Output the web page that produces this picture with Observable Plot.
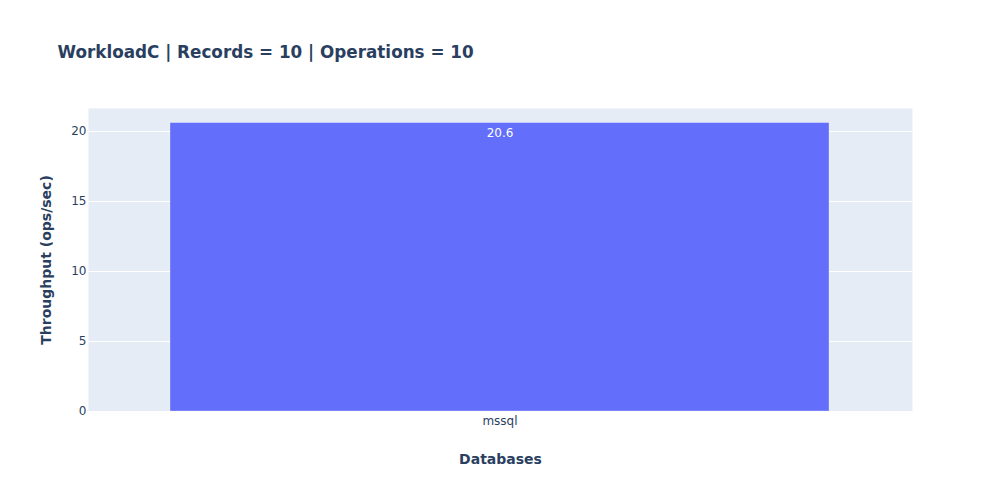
<!DOCTYPE html>
<html>
<head>
<meta charset="utf-8">
<script src="https://cdn.jsdelivr.net/npm/d3@7"></script>
<script src="https://cdn.jsdelivr.net/npm/@observablehq/plot@0.6"></script>
<style>
  html, body { margin: 0; padding: 0; background: #fff; }
  #chart { width: 1000px; height: 500px; }
  svg { font-family: "DejaVu Sans", sans-serif; }
</style>
</head>
<body>
<div id="chart"></div>
<script>
const titleText = "WorkloadC | Records = 10 | Operations = 10";
const databases = ["mssql"];
const throughput = [20.6];
const yTicks = [0, 5, 10, 15, 20];

const data = databases.map((d, i) => ({db: d, value: throughput[i]}));
const ink = "#2a3f5f";

const chart = Plot.plot({
  width: 1000,
  height: 500,
  marginLeft: 88,
  marginRight: 88,
  marginTop: 108,
  marginBottom: 89,
  style: {background: "#fff", color: ink, fontSize: "12px", fontFamily: "DejaVu Sans, sans-serif"},
  x: {domain: databases, paddingInner: 0.2, paddingOuter: 0.1, label: null},
  y: {domain: [0, 21.64], label: null},
  marks: [
    Plot.frame({fill: "#e5ecf6", stroke: null}),
    Plot.gridY(yTicks, {stroke: "#fff", strokeOpacity: 1, strokeWidth: 1}),
    Plot.barY(data, {x: "db", y: "value", fill: "#636efa", stroke: "#fff", strokeWidth: 0.5, strokeOpacity: 0.6}),
    Plot.text(data, {x: "db", y: "value", text: d => d.value.toFixed(1), fill: "#fff", dy: 10, fontSize: 12}),
    Plot.axisY(yTicks, {tickSize: 0, tickPadding: 2, label: null, fill: ink, fontSize: 12}),
    Plot.axisX({tickSize: 0, tickPadding: 5, label: null, fill: ink, fontSize: 12}),
    Plot.text([titleText], {frameAnchor: "top-left", dx: -31, dy: -56, text: d => d, fontSize: 16.8, fontWeight: "bold", fill: ink, textAnchor: "start", lineAnchor: "middle"}),
    Plot.text(["Databases"], {frameAnchor: "bottom", dy: 48, text: d => d, fontSize: 14, fontWeight: "bold", fill: ink, lineAnchor: "middle"}),
    Plot.text(["Throughput (ops/sec)"], {frameAnchor: "left", dx: -42, rotate: -90, text: d => d, fontSize: 14, fontWeight: "bold", fill: ink, textAnchor: "middle", lineAnchor: "middle"})
  ]
});
document.getElementById("chart").appendChild(chart);
</script>
</body>
</html>
